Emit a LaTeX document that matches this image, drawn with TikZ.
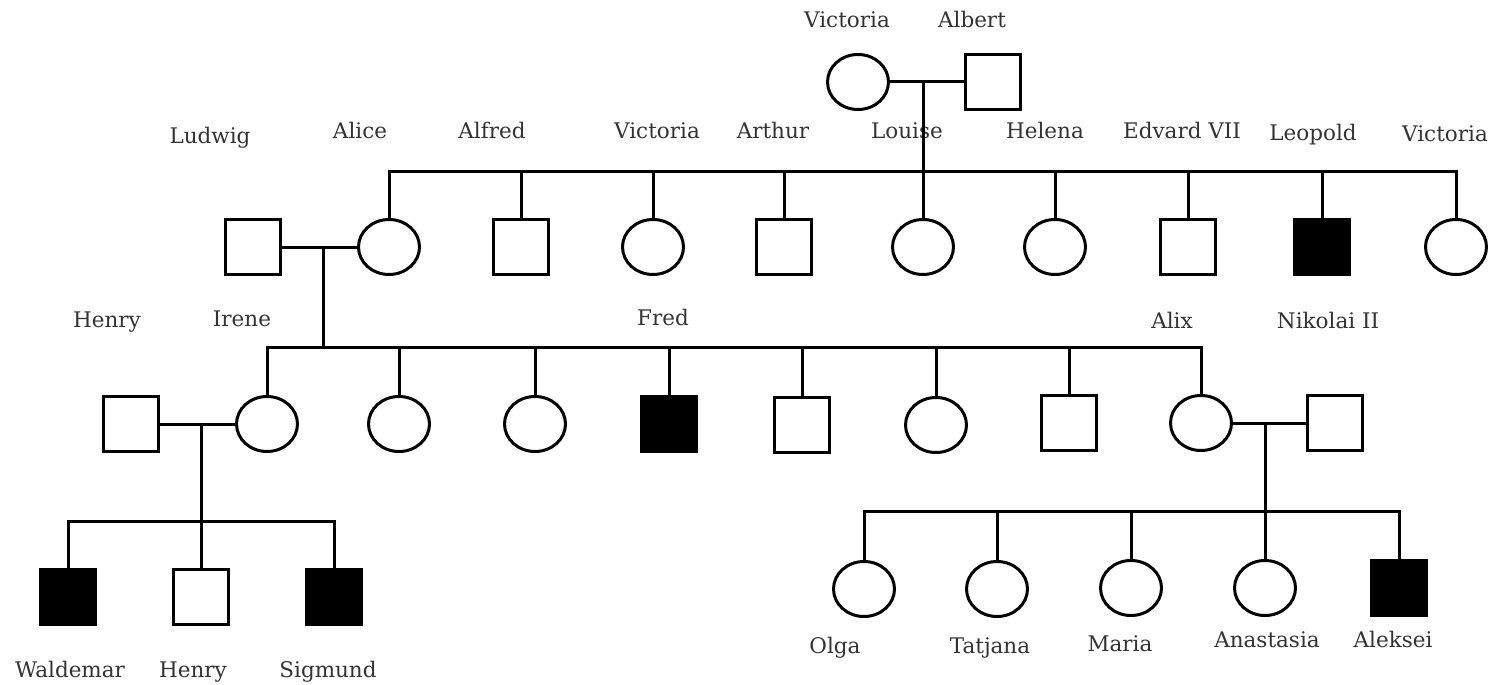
\documentclass[tikz,border=0pt]{standalone}
\usepackage{fontspec}
\setmainfont{DejaVu Serif}
\usetikzlibrary{shapes.geometric}
\definecolor{labelgray}{gray}{0.2}
\tikzset{
  line/.style={line width=3pt},
  female/.style={ellipse, draw, line width=3pt, inner sep=0pt,
    minimum width=61pt, minimum height=55pt},
  male/.style={rectangle, draw, line width=3pt, inner sep=0pt,
    minimum size=55pt},
  affected/.style={male, fill=black},
  lbl/.style={anchor=base, text=labelgray, inner sep=0pt,
    font=\fontsize{21.5}{25}\selectfont}
}
\begin{document}
\begin{tikzpicture}[x=1pt,y=-1pt]
\useasboundingbox (0,0) rectangle (1508,685);

% generation 0
\node[female] (victoria0) at (858,82) {};
\node[male]   (albert)    at (993,82) {};
\node[lbl] (lvictoria0) at (847,28) {Victoria};
\node[lbl] (lalbert)    at (972,28) {Albert};
\coordinate (m0) at (923,82);
\coordinate (s1) at (923,171);

% generation 1
\node[male]     (ludwig)    at (253,247) {};
\node[female]   (alice)     at (389,247) {};
\node[male]     (alfred)    at (521,247) {};
\node[female]   (victoria1) at (653,247) {};
\node[male]     (arthur)    at (784,247) {};
\node[female]   (louise)    at (923,247) {};
\node[female]   (helena)    at (1055,247) {};
\node[male]     (edvard)    at (1188,247) {};
\node[affected] (leopold)   at (1322,247) {};
\node[female]   (victoria2) at (1456,247) {};

\node[lbl] (lludwig)    at (210,143) {Ludwig};
\node[lbl] (lalice)     at (360,138) {Alice};
\node[lbl] (lalfred)    at (492,138) {Alfred};
\node[lbl] (lvictoria1) at (657,139) {Victoria};
\node[lbl] (larthur)    at (773,139) {Arthur};
\node[lbl] (llouise)    at (907,139) {Louise};
\node[lbl] (lhelena)    at (1045,138) {Helena};
\node[lbl] (ledvard)    at (1182,138) {Edvard VII};
\node[lbl] (lleopold)   at (1313,140) {Leopold};
\node[lbl] (lvictoria2) at (1445,141) {Victoria};

\coordinate (m1) at (323,247);
\coordinate (s2) at (323,347);

% generation 2
\node[male]     (henry)   at (131,424) {};
\node[female]   (irene)   at (267,424) {};
\node[female]   (c2)      at (399,424) {};
\node[female]   (c3)      at (535,424) {};
\node[affected] (fred)    at (669,424) {};
\node[male]     (c5)      at (802,425) {};
\node[female]   (c6)      at (936,425) {};
\node[male]     (c7)      at (1069,423) {};
\node[female]   (alix)    at (1201,423) {};
\node[male]     (nikolai) at (1335,423) {};

\node[lbl] (lhenry)   at (107,327) {Henry};
\node[lbl] (lirene)   at (242,326) {Irene};
\node[lbl] (lfred)    at (663,325) {Fred};
\node[lbl] (lalix)    at (1172,328) {Alix};
\node[lbl] (lnikolai) at (1328,328) {Nikolai II};

\coordinate (m2) at (201,424);
\coordinate (s3) at (201,521);
\coordinate (m3) at (1265,423);
\coordinate (s4) at (1265,511);

% generation 3, left family
\node[affected] (waldemar) at (68,597) {};
\node[male]     (henry2)   at (201,597) {};
\node[affected] (sigmund)  at (334,597) {};
\node[lbl] (lwaldemar) at (70,677) {Waldemar};
\node[lbl] (lhenry2)   at (193,677) {Henry};
\node[lbl] (lsigmund)  at (328,677) {Sigmund};

% generation 3, right family
\node[female]   (olga)      at (864,589) {};
\node[female]   (tatjana)   at (997,589) {};
\node[female]   (maria)     at (1131,588) {};
\node[female]   (anastasia) at (1265,588) {};
\node[affected] (aleksei)   at (1399,588) {};
\node[lbl] (lolga)      at (835,653) {Olga};
\node[lbl] (ltatjana)   at (990,653) {Tatjana};
\node[lbl] (lmaria)     at (1120,651) {Maria};
\node[lbl] (lanastasia) at (1267,647) {Anastasia};
\node[lbl] (laleksei)   at (1393,647) {Aleksei};

% marriages
\draw[line] (victoria0.east) -- (albert.west);
\draw[line] (ludwig.east) -- (alice.west);
\draw[line] (henry.east) -- (irene.west);
\draw[line] (alix.east) -- (nikolai.west);

% descent lines
\draw[line] (m0) -- (louise.north);
\draw[line] (alice.north) |- (s1) -| (victoria2.north);
\foreach \c in {alfred,victoria1,arthur,helena,edvard,leopold}
  \draw[line] (\c.north) -- (\c.north |- s1);

\draw[line] (m1) -- (s2);
\draw[line] (irene.north) |- (s2) -| (alix.north);
\foreach \c in {c2,c3,fred,c5,c6,c7}
  \draw[line] (\c.north) -- (\c.north |- s2);

\draw[line] (m2) -- (henry2.north);
\draw[line] (waldemar.north) |- (s3) -| (sigmund.north);

\draw[line] (m3) -- (anastasia.north);
\draw[line] (olga.north) |- (s4) -| (aleksei.north);
\foreach \c in {tatjana,maria}
  \draw[line] (\c.north) -- (\c.north |- s4);
\end{tikzpicture}
\end{document}
